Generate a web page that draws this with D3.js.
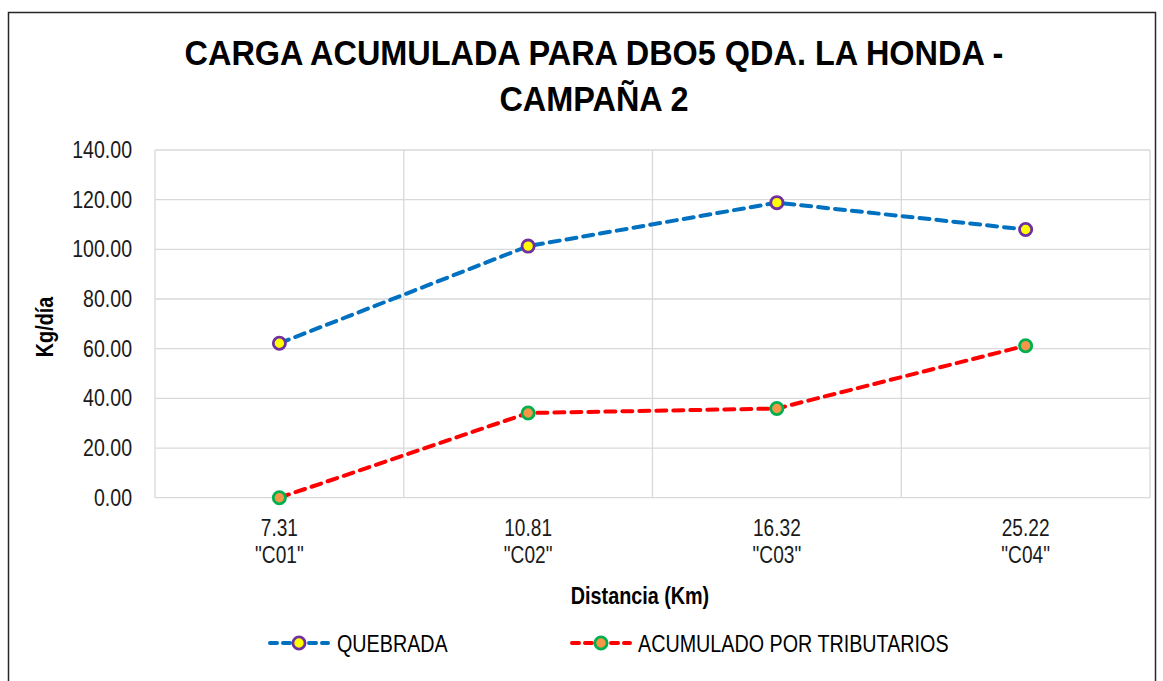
<!DOCTYPE html>
<html>
<head>
<meta charset="utf-8">
<script src="https://cdn.jsdelivr.net/npm/d3@7"></script>
<style>
  html, body { margin: 0; padding: 0; background: #ffffff; }
  svg { display: block; }
</style>
</head>
<body>
<svg id="chart" width="1163" height="681"></svg>
<script>
// Sampling stations along the creek: distance (km) and station code
const distances = ["7.31", "10.81", "16.32", "25.22"];
const stations = ['"C01"', '"C02"', '"C03"', '"C04"'];

// Accumulated BOD5 load (kg/día)
const quebrada = [62.2, 101.3, 118.8, 108.0];
const tributarios = [0.0, 34.1, 35.9, 61.2];

const yTicks = [0, 20, 40, 60, 80, 100, 120, 140];

const titleLines = ["CARGA ACUMULADA PARA DBO5 QDA. LA HONDA -", "CAMPAÑA 2"];
const seriesNames = ["QUEBRADA", "ACUMULADO POR TRIBUTARIOS"];

const FONT = "'Liberation Sans', Arial, sans-serif";
const CONDENSE = 0.83;   // horizontal squeeze for a narrow face

const svg = d3.select("#chart");

// text helper: condensed glyphs placed at (x, y)
function label(parent, x, y, str, opts = {}) {
  const sx = opts.sx || CONDENSE;
  const rot = opts.rotate ? ` rotate(${opts.rotate})` : "";
  return parent.append("text")
    .attr("transform", `translate(${x},${y})${rot} scale(${sx},1)`)
    .attr("text-anchor", opts.anchor || "start")
    .attr("font-family", FONT)
    .attr("font-weight", opts.bold ? "bold" : "normal")
    .attr("font-size", opts.size || 23)
    .attr("fill", opts.fill || "#1a1a1a")
    .text(str);
}

// outer chart frame
svg.append("rect")
  .attr("x", 8.5).attr("y", 12.5)
  .attr("width", 1147).attr("height", 690)
  .attr("fill", "#fff").attr("stroke", "#262626").attr("stroke-width", 1.5);

const plot = { left: 155, right: 1150, top: 150, bottom: 497.7 };

const x = d3.scaleBand()
  .domain(d3.range(distances.length))
  .range([plot.left, plot.right])
  .paddingInner(0).paddingOuter(0);

const y = d3.scaleLinear()
  .domain([0, 140])
  .range([plot.bottom, plot.top]);

const cx = i => x(i) + x.bandwidth() / 2;

// gridlines
const grid = svg.append("g").attr("stroke", "#d9d9d9").attr("stroke-width", 1.3);
grid.selectAll("line.h").data(yTicks).join("line")
  .attr("x1", plot.left).attr("x2", plot.right)
  .attr("y1", d => y(d)).attr("y2", d => y(d));
const vBounds = d3.range(distances.length + 1).map(i => i < distances.length ? x(i) : plot.right);
grid.selectAll("line.v").data(vBounds).join("line")
  .attr("y1", plot.top).attr("y2", plot.bottom)
  .attr("x1", d => d).attr("x2", d => d);

// y axis labels
const yAxis = d3.axisLeft(y).tickValues(yTicks).tickFormat(d3.format(".2f")).tickSize(0);
const yg = svg.append("g").attr("transform", `translate(${plot.left},0)`).call(yAxis);
yg.select(".domain").remove();
yg.selectAll("text")
  .attr("x", 0)
  .attr("transform", `translate(-23,0) scale(0.85,1)`)
  .attr("font-family", FONT).attr("font-size", 23).attr("fill", "#1a1a1a");

// x axis labels (two lines per category)
const xLab = svg.append("g");
distances.forEach((d, i) => {
  label(xLab, cx(i), 536, d, { anchor: "middle" });
  label(xLab, cx(i), 563, stations[i], { anchor: "middle" });
});

// axis titles
label(svg, 640, 604, "Distancia (Km)", { anchor: "middle", bold: true, fill: "#000", sx: 0.86 });
label(svg, 53, 327, "Kg/día", { anchor: "middle", bold: true, fill: "#000", rotate: -90, sx: 0.86 });

// title
titleLines.forEach((t, i) => {
  label(svg, 594, 65 + i * 46, t, { anchor: "middle", bold: true, size: 34.5, sx: 0.94, fill: "#000" });
});

// series
const series = [
  { name: seriesNames[0], values: quebrada, line: "#0070c0", fill: "#ffff00", ring: "#7030a0" },
  { name: seriesNames[1], values: tributarios, line: "#ff0000", fill: "#f79646", ring: "#00b050" }
];

const lineGen = d3.line()
  .x((d, i) => cx(i))
  .y(d => y(d));

series.forEach(s => {
  svg.append("path")
    .datum(s.values)
    .attr("d", lineGen)
    .attr("fill", "none")
    .attr("stroke", s.line)
    .attr("stroke-width", 4)
    .attr("stroke-dasharray", "10,7")
    .attr("stroke-linecap", "round")
    .attr("stroke-linejoin", "round");
});
series.forEach(s => {
  svg.append("g").selectAll("circle").data(s.values).join("circle")
    .attr("cx", (d, i) => cx(i)).attr("cy", d => y(d))
    .attr("r", 6.1)
    .attr("fill", s.fill).attr("stroke", s.ring).attr("stroke-width", 2.8);
});

// legend
const legendItems = [
  { s: series[0], x0: 268, tx: 337 },
  { s: series[1], x0: 570, tx: 638 }
];
const legendY = 643;
legendItems.forEach(it => {
  const g = svg.append("g");
  g.append("line")
    .attr("x1", it.x0 + 2).attr("x2", it.x0 + 60)
    .attr("y1", legendY).attr("y2", legendY)
    .attr("stroke", it.s.line).attr("stroke-width", 4)
    .attr("stroke-dasharray", "7,6").attr("stroke-linecap", "round");
  g.append("circle")
    .attr("cx", it.x0 + 31).attr("cy", legendY).attr("r", 6.1)
    .attr("fill", it.s.fill).attr("stroke", it.s.ring).attr("stroke-width", 2.8);
  label(g, it.tx, legendY + 9, it.s.name, { fill: "#000", size: 23.5, sx: 0.84 });
});
</script>
</body>
</html>
